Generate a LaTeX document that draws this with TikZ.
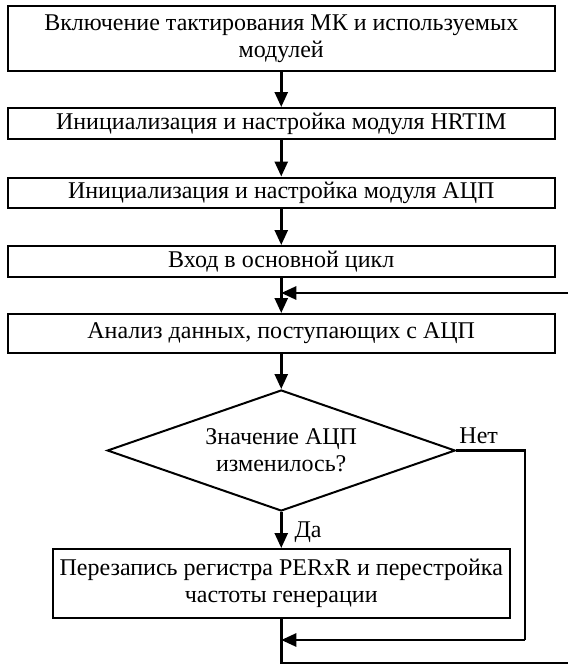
\documentclass[tikz,border=0pt]{standalone}
\usepackage{fontspec}
\setmainfont{Liberation Serif}
\usetikzlibrary{shapes.geometric,arrows.meta}
\begin{document}
\begin{tikzpicture}[x=1pt,y=-1pt,
  every node/.style={font=\fontsize{24}{27}\selectfont},
  blk/.style={draw,line width=2pt,rectangle,inner sep=0pt,align=center},
  dec/.style={draw,line width=2pt,diamond,aspect=2.876,inner sep=0pt,align=center},
  conn/.style={line width=2.6pt},
  arr/.style={conn,-{Triangle[width=13pt,length=15pt]}},
  lbl/.style={inner sep=0pt}]
\useasboundingbox (0,0) rectangle (568,664);
\node[blk,minimum width=547.5pt,minimum height=65pt] (b1) at (281.25,38.5)
  {Включение тактирования МК и используемых\\модулей};
\node[blk,minimum width=547.5pt,minimum height=31pt] (b2) at (281.25,123.5)
  {Инициализация и настройка модуля HRTIM};
\node[blk,minimum width=547.5pt,minimum height=30pt] (b3) at (281.25,192.5)
  {Инициализация и настройка модуля АЦП};
\node[blk,minimum width=547.5pt,minimum height=31pt] (b4) at (281.25,261.5)
  {Вход в основной цикл};
\node[blk,minimum width=547.5pt,minimum height=39pt] (b5) at (281.25,333.5)
  {Анализ данных, поступающих с АЦП};
\node[dec,minimum width=348pt,minimum height=121pt] (d) at (281.25,450.5)
  {Значение АЦП\\изменилось?};
\node[blk,minimum width=457pt,minimum height=69pt] (b6) at (281.25,583.5)
  {Перезапись регистра PERxR и перестройка\\частоты генерации};
\coordinate (j1) at (281.25,293);
\coordinate (j2) at (281.25,640);
\coordinate (nr) at (525,640);
\coordinate (lr1) at (568,663);
\coordinate (lr2) at (568,293);
\draw[arr] (b1) -- (b2);
\draw[arr] (b2) -- (b3);
\draw[arr] (b3) -- (b4);
\draw[arr] (b4) -- (b5);
\draw[arr] (b5) -- (d);
\draw[arr] (d) -- node[lbl,right=12pt,yshift=-2pt] {Да} (b6);
\draw[conn] (d.east) -| (nr);
\draw[arr] (nr) -- (j2);
\draw[conn] (b6.south) |- (lr1);
\draw[arr] (lr2) -- (j1);
\node[lbl,anchor=south west] (net) at ([xshift=3pt,yshift=7pt]d.east) {Нет};
\end{tikzpicture}
\end{document}
